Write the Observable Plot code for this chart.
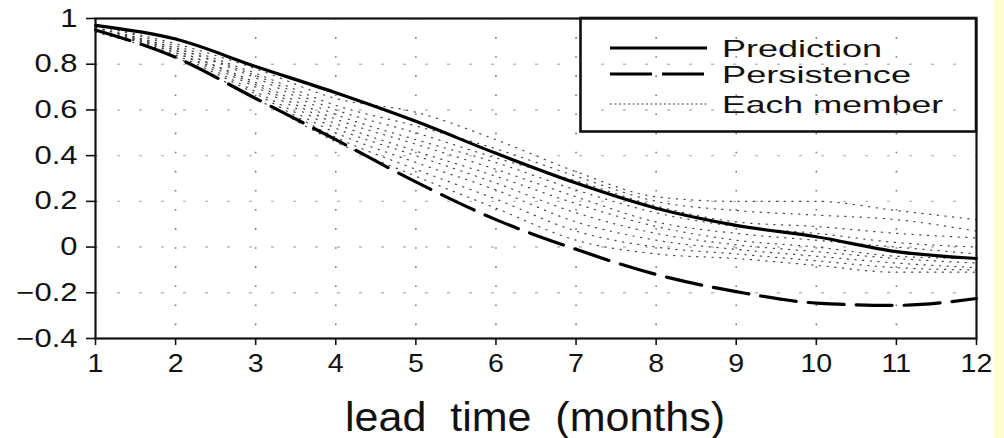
<!DOCTYPE html>
<html><head><meta charset="utf-8">
<script src="https://cdn.jsdelivr.net/npm/d3@7"></script>
<script src="https://cdn.jsdelivr.net/npm/@observablehq/plot@0.6"></script>
<style>
body{margin:0;background:#fff;}
#wrap{position:relative;width:1004px;height:438px;overflow:hidden;font-family:"Liberation Sans",Arial,Helvetica,sans-serif;color:#111;background:#fff;}
#wrap svg{position:absolute;left:0;top:0;}
#strip{position:absolute;left:994px;top:0;width:10px;height:438px;background:#fffdcc;}
</style>
</head><body>
<div id="wrap"><div id="strip"></div></div>
<script>
// ---- data ----
const leadTime = [1, 2, 3, 4, 5, 6, 7, 8, 9, 10, 11, 12];
const prediction  = [0.97, 0.91, 0.79, 0.675, 0.55, 0.41, 0.28, 0.17, 0.095, 0.045, -0.02, -0.05];
const persistence = [0.95, 0.83, 0.65, 0.47, 0.285, 0.12, -0.01, -0.12, -0.195, -0.245, -0.255, -0.225];
const members = [
  [0.97, 0.89, 0.78, 0.65, 0.59, 0.47, 0.33, 0.22, 0.20, 0.20, 0.16, 0.12],
  [0.97, 0.88, 0.76, 0.62, 0.53, 0.43, 0.31, 0.20, 0.16, 0.14, 0.12, 0.07],
  [0.96, 0.87, 0.75, 0.60, 0.50, 0.39, 0.29, 0.18, 0.11, 0.09, 0.06, 0.04],
  [0.96, 0.87, 0.74, 0.58, 0.47, 0.37, 0.25, 0.15, 0.09, 0.06, 0.02, 0.00],
  [0.96, 0.86, 0.72, 0.56, 0.45, 0.34, 0.22, 0.11, 0.06, 0.03, 0.00, -0.03],
  [0.95, 0.86, 0.71, 0.54, 0.42, 0.31, 0.19, 0.09, 0.03, 0.00, -0.04, -0.05],
  [0.95, 0.85, 0.70, 0.52, 0.40, 0.28, 0.15, 0.06, 0.01, -0.02, -0.05, -0.07],
  [0.95, 0.85, 0.68, 0.50, 0.37, 0.25, 0.11, 0.03, -0.01, -0.04, -0.07, -0.09],
  [0.95, 0.84, 0.67, 0.48, 0.34, 0.21, 0.07, 0.00, -0.03, -0.06, -0.09, -0.10],
  [0.94, 0.83, 0.65, 0.46, 0.31, 0.17, 0.03, -0.03, -0.05, -0.08, -0.11, -0.11]
];
const xTicks = [1, 2, 3, 4, 5, 6, 7, 8, 9, 10, 11, 12];
const xGrid = [2, 3, 4, 5, 6, 7, 8, 9, 10, 11];
const yTicks = [-0.4, -0.2, 0, 0.2, 0.4, 0.6, 0.8, 1];
const yTickLabels = ["\u22120.4", "\u22120.2", "0", "0.2", "0.4", "0.6", "0.8", "1"];
const yGrid = [-0.2, 0, 0.2, 0.4, 0.6, 0.8];
const legendLabels = ["Prediction", "Persistence", "Each member"];
const xLabel = "lead\u00a0 time\u00a0 (months)";

// ---- tables ----
const predRows = leadTime.map((x, i) => ({x, y: prediction[i]}));
const persRows = leadTime.map((x, i) => ({x, y: persistence[i]}));
const memberRows = members.flatMap((m, k) => leadTime.map((x, i) => ({x, y: m[i], member: k})));

const curve = "monotone-x";
const chart = Plot.plot({
  width: 1004, height: 438,
  marginLeft: 95, marginRight: 28, marginTop: 18, marginBottom: 100,
  style: {fontFamily: '"Liberation Sans", Arial, sans-serif', color: "#111", background: "transparent"},
  x: {domain: [1, 12]},
  y: {domain: [-0.4, 1]},
  marks: [
    Plot.ruleX(xGrid, {x: d => d, stroke: "#777", strokeWidth: 1.6, strokeDasharray: "1.6,17.5"}),
    Plot.ruleY(yGrid, {y: d => d, stroke: "#bbb", strokeWidth: 1.4, strokeDasharray: "3,19"}),
    Plot.line(memberRows, {x: "x", y: "y", z: "member", stroke: "#444", strokeWidth: 1.2, strokeDasharray: "1.2,6.5", curve}),
    Plot.line(persRows, {x: "x", y: "y", stroke: "#000", strokeWidth: 3.2, strokeDasharray: "36,12", curve}),
    Plot.line(predRows, {x: "x", y: "y", stroke: "#000", strokeWidth: 3.2, curve}),
    Plot.frame({stroke: "#111", strokeWidth: 2.2}),
    Plot.axisY({ticks: yTicks, tickFormat: d => yTickLabels[yTicks.indexOf(d)], tickSize: 9, tickPadding: 9, fontSize: 25, label: null, strokeWidth: 1.6}),
    Plot.axisX({ticks: xTicks, tickFormat: d => String(d), tickSize: 7, tickPadding: 8, fontSize: 26, label: null, strokeWidth: 1.6})
  ]
});
const wrap = document.getElementById("wrap");
wrap.appendChild(chart);

// widen tick label glyphs horizontally, as in the reference
function widen(sel, s) {
  chart.querySelectorAll(sel).forEach(t => {
    const w = t.getComputedTextLength();
    if (w > 0) {
      t.setAttribute("textLength", (w * s).toFixed(1));
      t.setAttribute("lengthAdjust", "spacingAndGlyphs");
    }
  });
}
widen('g[aria-label="y-axis tick label"] text', 1.24);
widen('g[aria-label="x-axis tick label"] text', 1.1);

// ---- legend and axis label overlay ----
const ns = "http://www.w3.org/2000/svg";
const ov = document.createElementNS(ns, "svg");
ov.setAttribute("width", 1004); ov.setAttribute("height", 438);
ov.style.fontFamily = '"Liberation Sans", Arial, sans-serif';
function el(tag, attrs, text) {
  const e = document.createElementNS(ns, tag);
  for (const k in attrs) e.setAttribute(k, attrs[k]);
  if (text != null) e.textContent = text;
  ov.appendChild(e);
  return e;
}
el("rect", {x: 580.5, y: 18, width: 395.5, height: 113.5, fill: "none", stroke: "#111", "stroke-width": 2.6});
const styles = [
  {dash: null, w: 3},
  {dash: "42,10", w: 3},
  {dash: "2,2.5", w: 1.2}
];
const rowY = [48, 74, 104];
const legendWidths = [160, 189, 221];
legendLabels.forEach((lab, i) => {
  const l = el("line", {x1: 610, x2: 707, y1: rowY[i], y2: rowY[i], stroke: i === 2 ? "#444" : "#000", "stroke-width": styles[i].w});
  if (styles[i].dash) l.setAttribute("stroke-dasharray", styles[i].dash);
  el("text", {x: 722, y: rowY[i] + 8.5, "font-size": 24, fill: "#111", textLength: legendWidths[i], lengthAdjust: "spacingAndGlyphs"}, lab);
});
el("text", {x: 345, y: 431, "font-size": 40, fill: "#111", textLength: 380, lengthAdjust: "spacingAndGlyphs"}, xLabel);
wrap.appendChild(ov);
</script>
</body></html>
